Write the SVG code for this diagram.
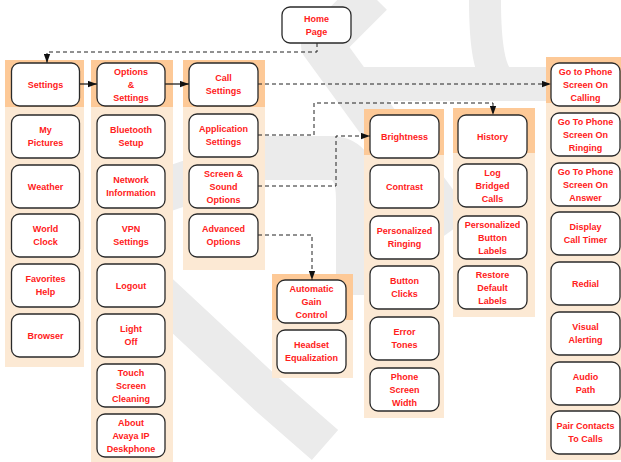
<svg xmlns="http://www.w3.org/2000/svg" width="621" height="462" viewBox="0 0 621 462">
<defs>
<style>
.wm{fill:none;stroke:#ebebeb;stroke-linejoin:round}
.ph{fill:#fdc997}
.pb{fill:#fce9d4}
.n{fill:#ffffff;stroke:#2a2a2a;stroke-width:1.3}
.t{font-family:"Liberation Sans",Arial,sans-serif;font-weight:bold;font-size:9px;fill:#ff2020;text-anchor:middle}
.d{fill:none;stroke:#222;stroke-width:1;stroke-dasharray:4 3}
.s{fill:none;stroke:#111;stroke-width:1.2}
</style>
<marker id="ah" viewBox="0 0 10 7" refX="10" refY="3.5" markerWidth="9" markerHeight="7" orient="auto" markerUnits="userSpaceOnUse">
<path d="M0,0 L10,3.5 L0,7 z" fill="#111"/>
</marker>
</defs>
<rect width="621" height="462" fill="#ffffff"/>
<g id="watermark">
<path class="wm" stroke-width="42" d="M372 -5 L322 45 L455 228"/>
<path class="wm" stroke-width="34" d="M350 84 L546 84"/>
<path class="wm" stroke-width="32" d="M485 0 Q485 70 500 80"/>
<path class="wm" stroke-width="44" d="M165 190 L260 158 L330 158 Q358 158 358 200 L358 295"/>
<path class="wm" stroke-width="40" d="M150 285 L270 397 L325 445"/>
</g>
<g id="panels">
<rect class="pb" x="5" y="60" width="79" height="307"/><rect class="ph" x="5" y="60" width="79" height="47"/>
<rect class="pb" x="91" y="60" width="82" height="402"/><rect class="ph" x="91" y="60" width="82" height="47"/>
<rect class="pb" x="183" y="60" width="82" height="210"/><rect class="ph" x="183" y="60" width="82" height="47"/>
<rect class="pb" x="272" y="274" width="81" height="104"/><rect class="ph" x="272" y="274" width="81" height="46"/>
<rect class="pb" x="364" y="109" width="80" height="309"/><rect class="ph" x="364" y="109" width="80" height="46"/>
<rect class="pb" x="453" y="108" width="82" height="209"/><rect class="ph" x="453" y="108" width="82" height="45"/>
<rect class="pb" x="546" y="57" width="75" height="403"/><rect class="ph" x="546" y="57" width="75" height="46"/>
</g>
<g id="connectors">
<path class="s" d="M80 84 H97" marker-end="url(#ah)"/>
<path class="s" d="M165 84 H189" marker-end="url(#ah)"/>
<path class="d" d="M317 43 V52 H47 V63" marker-end="url(#ah)"/>
<path class="d" d="M258 84 H551" marker-end="url(#ah)"/>
<path class="d" d="M258 135 H314 V103 H493 V115" marker-end="url(#ah)"/>
<path class="d" d="M258 186 H336 V136 H370" marker-end="url(#ah)"/>
<path class="d" d="M258 235 H312 V280" marker-end="url(#ah)"/>
</g>
<g id="home"><rect class="n" x="282" y="7" width="69" height="36" rx="8"/><text class="t"><tspan x="316.5" y="21.7">Home</tspan><tspan x="316.5" y="34.7">Page</tspan></text></g>
<g id="settings"><rect class="n" x="11.5" y="63" width="68" height="43" rx="8"/><text class="t" x="45.5" y="87.7">Settings</text></g>
<g id="my-pictures"><rect class="n" x="11.5" y="115" width="68" height="43" rx="8"/><text class="t"><tspan x="45.5" y="133.2">My</tspan><tspan x="45.5" y="146.2">Pictures</tspan></text></g>
<g id="weather"><rect class="n" x="11.5" y="165" width="68" height="43" rx="8"/><text class="t" x="45.5" y="189.7">Weather</text></g>
<g id="world-clock"><rect class="n" x="11.5" y="214" width="68" height="43" rx="8"/><text class="t"><tspan x="45.5" y="232.2">World</tspan><tspan x="45.5" y="245.2">Clock</tspan></text></g>
<g id="favorites-help"><rect class="n" x="11.5" y="264" width="68" height="43" rx="8"/><text class="t"><tspan x="45.5" y="282.2">Favorites</tspan><tspan x="45.5" y="295.2">Help</tspan></text></g>
<g id="browser"><rect class="n" x="11.5" y="314" width="68" height="43" rx="8"/><text class="t" x="45.5" y="338.7">Browser</text></g>
<g id="options-settings"><rect class="n" x="97" y="63" width="68" height="43" rx="8"/><text class="t"><tspan x="131" y="74.7">Options</tspan><tspan x="131" y="87.7">&amp;</tspan><tspan x="131" y="100.7">Settings</tspan></text></g>
<g id="bluetooth"><rect class="n" x="97" y="115" width="68" height="43" rx="8"/><text class="t"><tspan x="131" y="133.2">Bluetooth</tspan><tspan x="131" y="146.2">Setup</tspan></text></g>
<g id="network"><rect class="n" x="97" y="165" width="68" height="43" rx="8"/><text class="t"><tspan x="131" y="183.2">Network</tspan><tspan x="131" y="196.2">Information</tspan></text></g>
<g id="vpn"><rect class="n" x="97" y="214" width="68" height="43" rx="8"/><text class="t"><tspan x="131" y="232.2">VPN</tspan><tspan x="131" y="245.2">Settings</tspan></text></g>
<g id="logout"><rect class="n" x="97" y="264" width="68" height="43" rx="8"/><text class="t" x="131" y="288.7">Logout</text></g>
<g id="light-off"><rect class="n" x="97" y="314" width="68" height="43" rx="8"/><text class="t"><tspan x="131" y="332.2">Light</tspan><tspan x="131" y="345.2">Off</tspan></text></g>
<g id="touch-screen"><rect class="n" x="97" y="364" width="68" height="43" rx="8"/><text class="t"><tspan x="131" y="375.7">Touch</tspan><tspan x="131" y="388.7">Screen</tspan><tspan x="131" y="401.7">Cleaning</tspan></text></g>
<g id="about"><rect class="n" x="97" y="414" width="68" height="43" rx="8"/><text class="t"><tspan x="131" y="425.7">About</tspan><tspan x="131" y="438.7">Avaya IP</tspan><tspan x="131" y="451.7">Deskphone</tspan></text></g>
<g id="call-settings"><rect class="n" x="189" y="63" width="69" height="43" rx="8"/><text class="t"><tspan x="223.5" y="81.2">Call</tspan><tspan x="223.5" y="94.2">Settings</tspan></text></g>
<g id="application-settings"><rect class="n" x="189" y="114" width="69" height="43" rx="8"/><text class="t"><tspan x="223.5" y="132.2">Application</tspan><tspan x="223.5" y="145.2">Settings</tspan></text></g>
<g id="screen-sound"><rect class="n" x="189" y="165" width="69" height="43" rx="8"/><text class="t"><tspan x="223.5" y="176.7">Screen &amp;</tspan><tspan x="223.5" y="189.7">Sound</tspan><tspan x="223.5" y="202.7">Options</tspan></text></g>
<g id="advanced"><rect class="n" x="189" y="214" width="69" height="43" rx="8"/><text class="t"><tspan x="223.5" y="232.2">Advanced</tspan><tspan x="223.5" y="245.2">Options</tspan></text></g>
<g id="agc"><rect class="n" x="277" y="280" width="69" height="43" rx="8"/><text class="t"><tspan x="311.5" y="291.7">Automatic</tspan><tspan x="311.5" y="304.7">Gain</tspan><tspan x="311.5" y="317.7">Control</tspan></text></g>
<g id="headset"><rect class="n" x="277" y="330" width="69" height="43" rx="8"/><text class="t"><tspan x="311.5" y="348.2">Headset</tspan><tspan x="311.5" y="361.2">Equalization</tspan></text></g>
<g id="brightness"><rect class="n" x="370" y="115" width="69" height="43" rx="8"/><text class="t" x="404.5" y="139.7">Brightness</text></g>
<g id="contrast"><rect class="n" x="370" y="165" width="69" height="43" rx="8"/><text class="t" x="404.5" y="189.7">Contrast</text></g>
<g id="personalized-ringing"><rect class="n" x="370" y="216" width="69" height="43" rx="8"/><text class="t"><tspan x="404.5" y="234.2">Personalized</tspan><tspan x="404.5" y="247.2">Ringing</tspan></text></g>
<g id="button-clicks"><rect class="n" x="370" y="266" width="69" height="43" rx="8"/><text class="t"><tspan x="404.5" y="284.2">Button</tspan><tspan x="404.5" y="297.2">Clicks</tspan></text></g>
<g id="error-tones"><rect class="n" x="370" y="317" width="69" height="43" rx="8"/><text class="t"><tspan x="404.5" y="335.2">Error</tspan><tspan x="404.5" y="348.2">Tones</tspan></text></g>
<g id="phone-screen-width"><rect class="n" x="370" y="368" width="69" height="43" rx="8"/><text class="t"><tspan x="404.5" y="379.7">Phone</tspan><tspan x="404.5" y="392.7">Screen</tspan><tspan x="404.5" y="405.7">Width</tspan></text></g>
<g id="history"><rect class="n" x="458" y="115" width="69" height="43" rx="8"/><text class="t" x="492.5" y="139.7">History</text></g>
<g id="log-bridged"><rect class="n" x="458" y="164" width="69" height="43" rx="8"/><text class="t"><tspan x="492.5" y="175.7">Log</tspan><tspan x="492.5" y="188.7">Bridged</tspan><tspan x="492.5" y="201.7">Calls</tspan></text></g>
<g id="personalized-labels"><rect class="n" x="458" y="216" width="69" height="43" rx="8"/><text class="t"><tspan x="492.5" y="227.7">Personalized</tspan><tspan x="492.5" y="240.7">Button</tspan><tspan x="492.5" y="253.7">Labels</tspan></text></g>
<g id="restore-labels"><rect class="n" x="458" y="266" width="69" height="43" rx="8"/><text class="t"><tspan x="492.5" y="277.7">Restore</tspan><tspan x="492.5" y="290.7">Default</tspan><tspan x="492.5" y="303.7">Labels</tspan></text></g>
<g id="go-calling"><rect class="n" x="551" y="63" width="69" height="43" rx="8"/><text class="t"><tspan x="585.5" y="74.7">Go to Phone</tspan><tspan x="585.5" y="87.7">Screen On</tspan><tspan x="585.5" y="100.7">Calling</tspan></text></g>
<g id="go-ringing"><rect class="n" x="551" y="113" width="69" height="43" rx="8"/><text class="t"><tspan x="585.5" y="124.7">Go To Phone</tspan><tspan x="585.5" y="137.7">Screen On</tspan><tspan x="585.5" y="150.7">Ringing</tspan></text></g>
<g id="go-answer"><rect class="n" x="551" y="163" width="69" height="43" rx="8"/><text class="t"><tspan x="585.5" y="174.7">Go To Phone</tspan><tspan x="585.5" y="187.7">Screen On</tspan><tspan x="585.5" y="200.7">Answer</tspan></text></g>
<g id="display-timer"><rect class="n" x="551" y="212" width="69" height="43" rx="8"/><text class="t"><tspan x="585.5" y="230.2">Display</tspan><tspan x="585.5" y="243.2">Call Timer</tspan></text></g>
<g id="redial"><rect class="n" x="551" y="262" width="69" height="43" rx="8"/><text class="t" x="585.5" y="286.7">Redial</text></g>
<g id="visual-alerting"><rect class="n" x="551" y="312" width="69" height="43" rx="8"/><text class="t"><tspan x="585.5" y="330.2">Visual</tspan><tspan x="585.5" y="343.2">Alerting</tspan></text></g>
<g id="audio-path"><rect class="n" x="551" y="362" width="69" height="43" rx="8"/><text class="t"><tspan x="585.5" y="380.2">Audio</tspan><tspan x="585.5" y="393.2">Path</tspan></text></g>
<g id="pair-contacts"><rect class="n" x="551" y="411" width="69" height="43" rx="8"/><text class="t"><tspan x="585.5" y="429.2">Pair Contacts</tspan><tspan x="585.5" y="442.2">To Calls</tspan></text></g>
</svg>
